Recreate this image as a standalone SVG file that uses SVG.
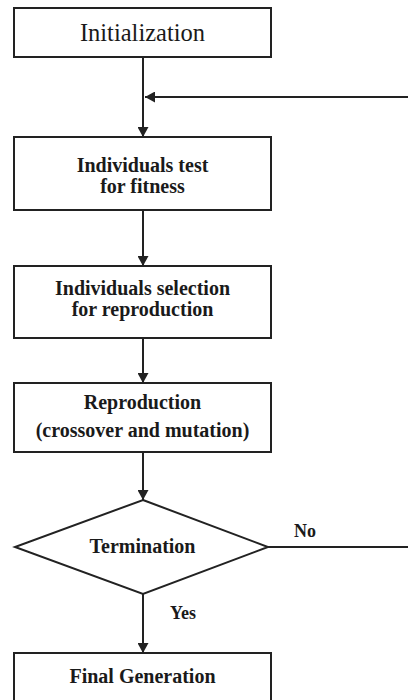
<svg xmlns="http://www.w3.org/2000/svg" width="408" height="700" viewBox="0 0 408 700">
<style>
.box{fill:#fff;stroke:#222;stroke-width:2}
.ln{fill:none;stroke:#222;stroke-width:2}
.t{font-family:"Liberation Serif","Times New Roman",serif;fill:#1a1a1a;text-anchor:middle}
.b{font-weight:bold;font-size:20px}
.r{font-size:24.5px}
.lbl{font-family:"Liberation Serif","Times New Roman",serif;fill:#1a1a1a;font-weight:bold;font-size:18px}
</style>
<defs>
<marker id="ah" markerWidth="10" markerHeight="11" refX="10" refY="5.5" orient="auto" markerUnits="userSpaceOnUse">
<path d="M0,0 L10,5.5 L0,11 Z" fill="#222"/>
</marker>
</defs>
<g id="connectors">
<line class="ln" x1="143" y1="57" x2="143" y2="137" marker-end="url(#ah)"/>
<line class="ln" x1="408" y1="97" x2="145" y2="97" marker-end="url(#ah)"/>
<line class="ln" x1="143" y1="210" x2="143" y2="266" marker-end="url(#ah)"/>
<line class="ln" x1="143" y1="338" x2="143" y2="383" marker-end="url(#ah)"/>
<line class="ln" x1="143" y1="452" x2="143" y2="500" marker-end="url(#ah)"/>
<line class="ln" x1="143" y1="594" x2="143" y2="653" marker-end="url(#ah)"/>
<line class="ln" x1="268" y1="547" x2="408" y2="547"/>
<text class="lbl" x="294" y="537">No</text>
<text class="lbl" x="170" y="619">Yes</text>
</g>
<g id="init">
<rect class="box" x="14" y="8" width="257" height="49"/>
<text class="t r" x="142.5" y="41">Initialization</text>
</g>
<g id="fitness">
<rect class="box" x="14" y="137" width="257" height="73"/>
<text class="t b" x="142.5" y="172">Individuals test</text>
<text class="t b" x="142.5" y="193">for fitness</text>
</g>
<g id="selection">
<rect class="box" x="14" y="266" width="257" height="72"/>
<text class="t b" x="142.5" y="295">Individuals selection</text>
<text class="t b" x="142.5" y="316">for reproduction</text>
</g>
<g id="reproduction">
<rect class="box" x="14" y="383" width="257" height="69"/>
<text class="t b" x="142.5" y="409">Reproduction</text>
<text class="t b" x="142.5" y="437">(crossover and mutation)</text>
</g>
<g id="termination">
<polygon class="box" points="143,500 268,547 143,594 15,547"/>
<text class="t b" x="142.5" y="553">Termination</text>
</g>
<g id="final">
<rect class="box" x="14" y="653" width="257" height="60"/>
<text class="t b" x="142.5" y="683">Final Generation</text>
</g>
</svg>
